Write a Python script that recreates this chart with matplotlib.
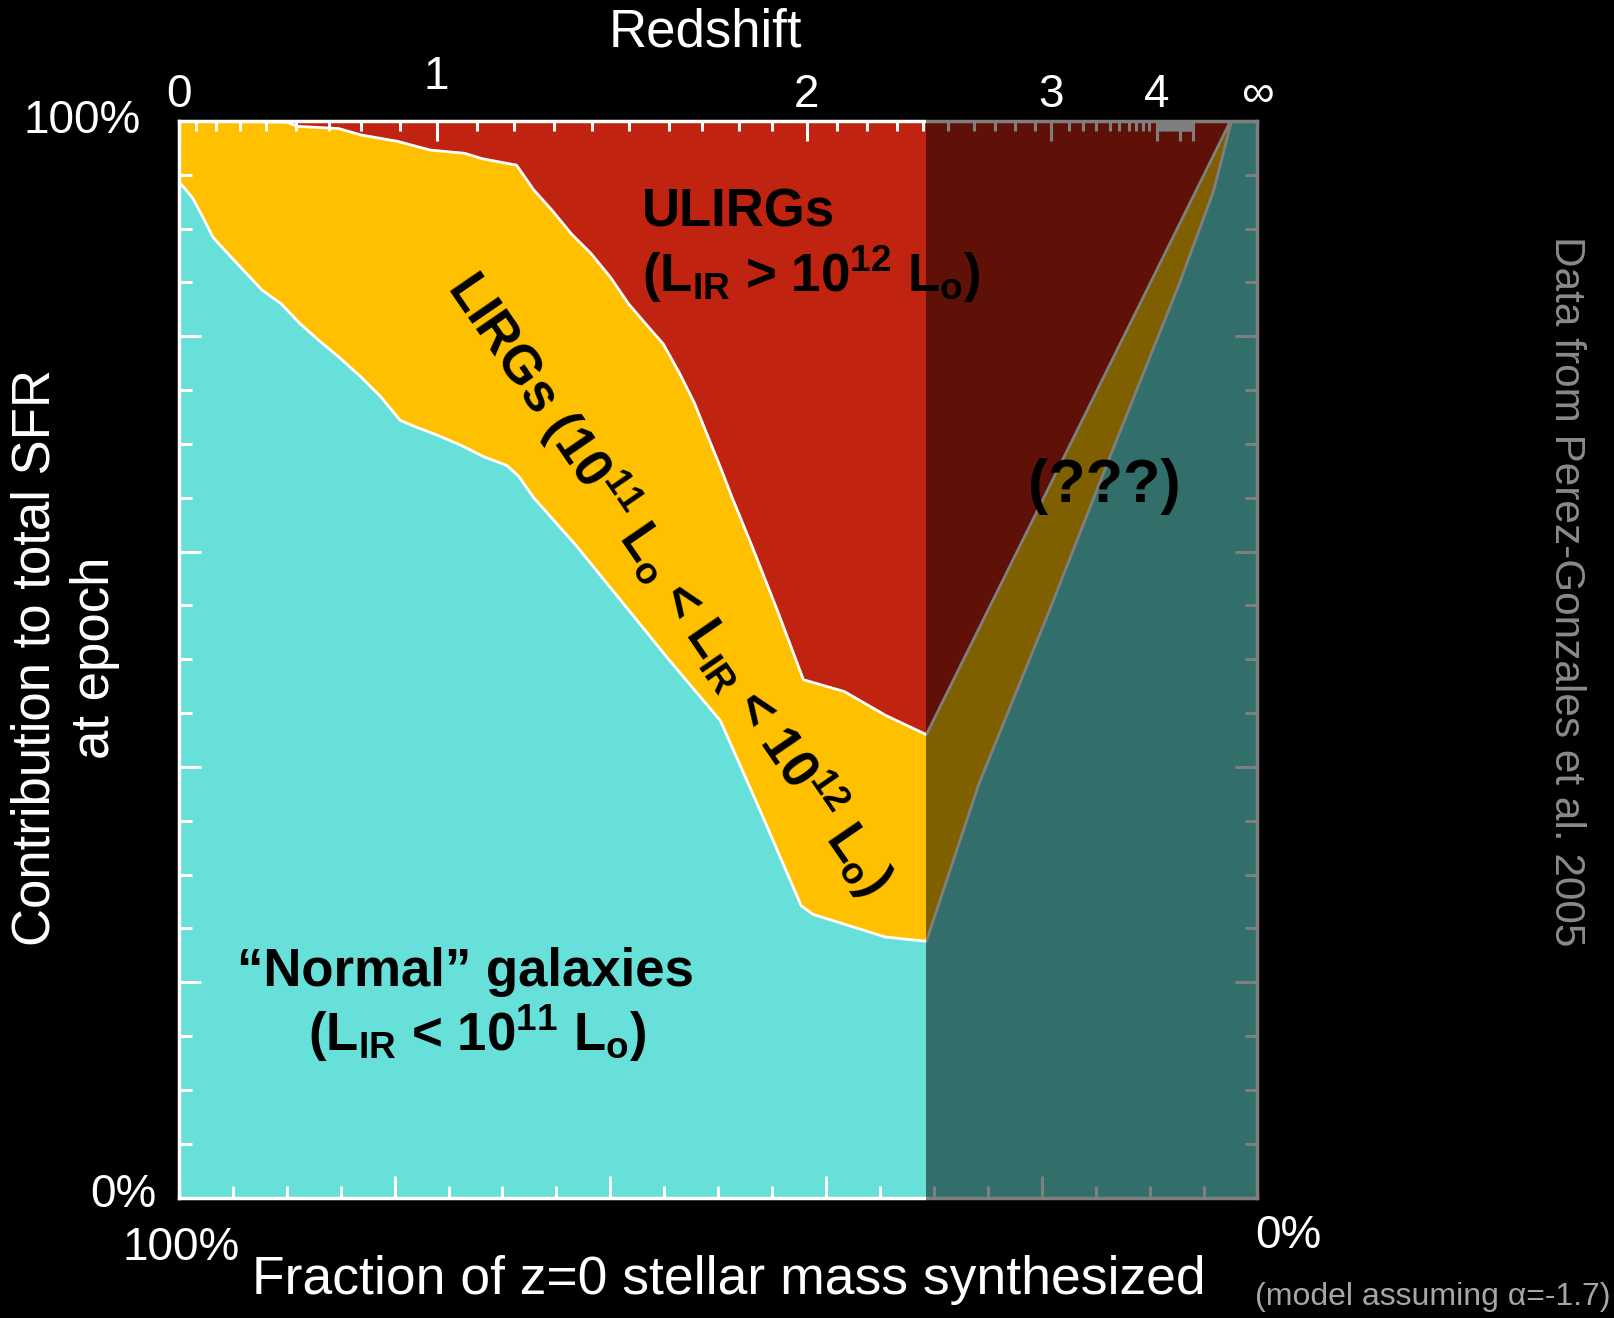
import numpy as np
import matplotlib.pyplot as plt
from matplotlib.patches import Rectangle
from matplotlib.ticker import MultipleLocator

plt.rcParams['font.family'] = ['Liberation Sans', 'DejaVu Sans']
plt.rcParams['mathtext.fontset'] = 'custom'
plt.rcParams['mathtext.rm'] = 'Liberation Sans'
plt.rcParams['mathtext.default'] = 'regular'

# x = fraction of z=0 stellar mass synthesized (%), y = contribution to SFR (%)
normal_x = [100.0, 99.6, 98.7, 97.8, 96.9, 96.4, 95.2, 93.8, 92.3, 90.5, 88.8, 87.0,
            85.2, 83.1, 81.3, 79.5, 78.1, 76.0, 73.9, 71.7, 69.6, 68.5, 67.1, 63.2,
            59.3, 54.6, 49.8, 46.0, 42.3, 41.2, 34.5, 30.7,
            25.8, 19.5, 13.4, 7.2, 4.1, 2.4, 0.0]
normal_top = [94.3, 93.9, 92.8, 91.1, 89.3, 88.7, 87.4, 85.9, 84.3, 83.0, 81.2, 79.6,
              78.1, 76.2, 74.4, 72.2, 71.6, 70.8, 69.9, 68.8, 68.0, 67.0, 65.0, 60.6,
              55.8, 50.0, 44.3, 35.7, 27.1, 26.3, 24.2, 23.8,
              38.5, 54.0, 69.5, 85.0, 93.4, 100.0, 100.0]

lirg_x = [100.0, 90.0, 89.0, 85.2, 83.1, 79.7, 76.7, 73.5, 71.9, 70.3, 68.7, 67.1,
          65.4, 63.6, 61.8, 60.0, 58.3, 56.5, 55.1, 53.6, 52.2, 51.2, 49.7, 48.7,
          46.9, 44.5, 42.1, 38.3, 34.5, 30.7,
          26.0, 21.0, 16.0, 11.0, 6.0, 2.5, 0.0]
lirg_top = [100.0, 99.9, 99.5, 99.3, 98.7, 98.1, 97.3, 97.0, 96.5, 96.2, 95.9, 93.6,
            91.7, 89.5, 87.7, 85.5, 83.0, 80.9, 79.3, 76.6, 73.8, 71.3, 67.6, 65.0,
            60.6, 54.5, 48.1, 47.0, 44.8, 43.0,
            52.5, 62.6, 72.7, 82.8, 92.9, 100.0, 100.0]

# beyond this point (higher redshift) the picture is only a model
data_limit = 30.7

# redshift axis: where each redshift falls on the mass axis (%)
z_labels = ['0', '', '2', '3', '4', '', '', '\u221e']
z_major = [100.0, 76.1, 41.8, 19.1, 9.35, 7.19, 5.95, 0.0]
z_minor = [98.4, 96.6, 94.3, 91.9, 89.1, 86.1, 83.1, 79.5,
           72.4, 68.9, 65.2, 61.7, 58.3, 54.6, 51.5, 48.1, 45.0,
           39.0, 36.2, 33.4, 31.0, 28.7, 26.3, 24.3, 22.5, 20.6,
           17.5, 16.2, 15.0, 13.7, 12.8, 11.9, 11.3, 10.6, 10.1]
z_minor += list(np.linspace(9.35, 7.19, 11)[1:-1]) + list(np.linspace(7.19, 5.95, 11)[1:-1])

CYAN = '#66E0D8'
YELLOW = '#FFC000'
RED = '#C0230F'

fig = plt.figure(figsize=(16.15, 13.18), dpi=100, facecolor='black')
ax = fig.add_axes([0.1108, 0.0914, 0.6678, 0.8168])
ax.set_facecolor('black')

ax.fill_between(lirg_x, lirg_top, 100, color=RED, lw=0)
ax.fill_between(lirg_x, 0, lirg_top, color=YELLOW, lw=0)
ax.fill_between(normal_x, 0, normal_top, color=CYAN, lw=0)
ax.plot(lirg_x, lirg_top, color='white', lw=2)
ax.plot(normal_x, normal_top, color='white', lw=2)

ax.set_xlim(100, 0)
ax.set_ylim(0, 100)
for a in (ax.xaxis, ax.yaxis):
    a.set_major_locator(MultipleLocator(20))
    a.set_minor_locator(MultipleLocator(5))
ax.tick_params(which='both', direction='in', colors='white', width=2.2,
               left=True, right=True, bottom=True, top=False,
               labelleft=False, labelbottom=False)
ax.tick_params(which='major', length=16)
ax.tick_params(which='minor', length=9)
for s in ax.spines.values():
    s.set_color('white')
    s.set_linewidth(2.5)

ax2 = ax.twiny()
ax2.set_xlim(100, 0)
for s in ax2.spines.values():
    s.set_visible(False)
ax2.set_xticks(z_major)
ax2.set_xticklabels(z_labels)
ax2.set_xticks(z_minor, minor=True)
ax2.tick_params(which='both', direction='in', colors='white', width=2.2,
                labelsize=33, pad=3)
ax2.tick_params(which='major', length=14.5)
ax2.tick_params(which='minor', length=7.5)
# the "1" sits a little higher than the other redshift labels
ax2.text(z_major[1], 1.041, '1', transform=ax2.get_xaxis_transform(), color='white',
         fontsize=33, ha='center', va='center')

shade = Rectangle((data_limit, -0.012), -data_limit - 3, 1.024,
                  transform=ax2.get_xaxis_transform(), facecolor='black',
                  alpha=0.5, lw=0, zorder=10, clip_on=False)
ax2.add_patch(shade)

fig.text(0.4365, 0.975, 'Redshift', color='white', fontsize=38, ha='center', va='center')
fig.text(0.4514, 0.0288, 'Fraction of z=0 stellar mass synthesized', color='white',
         fontsize=38.5, ha='center', va='center')
fig.text(0.0402, 0.5008, 'Contribution to total SFR\nat epoch', color='white', fontsize=38,
         rotation=90, ha='center', va='center', multialignment='center', linespacing=1.25)
fig.text(0.0873, 0.9082, '100%', color='white', fontsize=33, ha='right', va='center')
fig.text(0.0972, 0.0933, '0%', color='white', fontsize=33, ha='right', va='center')
fig.text(0.1121, 0.0531, '100%', color='white', fontsize=33, ha='center', va='center')
fig.text(0.7771, 0.0622, '0%', color='white', fontsize=33, ha='left', va='center')
fig.text(0.7771, 0.0159, '(model assuming \u03b1=-1.7)', color='#A6A6A6', fontsize=23,
         ha='left', va='center')
fig.text(0.9697, 0.5512, 'Data from Perez-Gonzales et al. 2005', color='#8A8A8A',
         fontsize=30.5, rotation=-90, ha='center', va='center')

fig.text(0.457, 0.8281, 'ULIRGs', color='black', fontsize=38, fontweight='bold',
         ha='center', va='baseline')
fig.text(0.5022, 0.7788, r'(L$_{IR}$ > 10$^{12}$ L$_o$)', color='black', fontsize=38,
         fontweight='bold', ha='center', va='baseline')
fig.text(0.6839, 0.6194, '(???)', color='black', fontsize=44, fontweight='bold',
         ha='center', va='baseline')
fig.text(0.2882, 0.2522, '\u201cNormal\u201d galaxies', color='black', fontsize=38,
         fontweight='bold', ha='center', va='baseline')
fig.text(0.2954, 0.2029, r'(L$_{IR}$ < 10$^{11}$ L$_o$)', color='black', fontsize=38,
         fontweight='bold', ha='center', va='baseline')
fig.text(0.4152, 0.5575, r'LIRGs (10$^{11}$ L$_o$ < L$_{IR}$ < 10$^{12}$ L$_o$)',
         color='black', fontsize=38, fontweight='bold', rotation=-55.5,
         rotation_mode='anchor', ha='center', va='center')

fig.savefig('out.png', dpi=100, facecolor='black')
